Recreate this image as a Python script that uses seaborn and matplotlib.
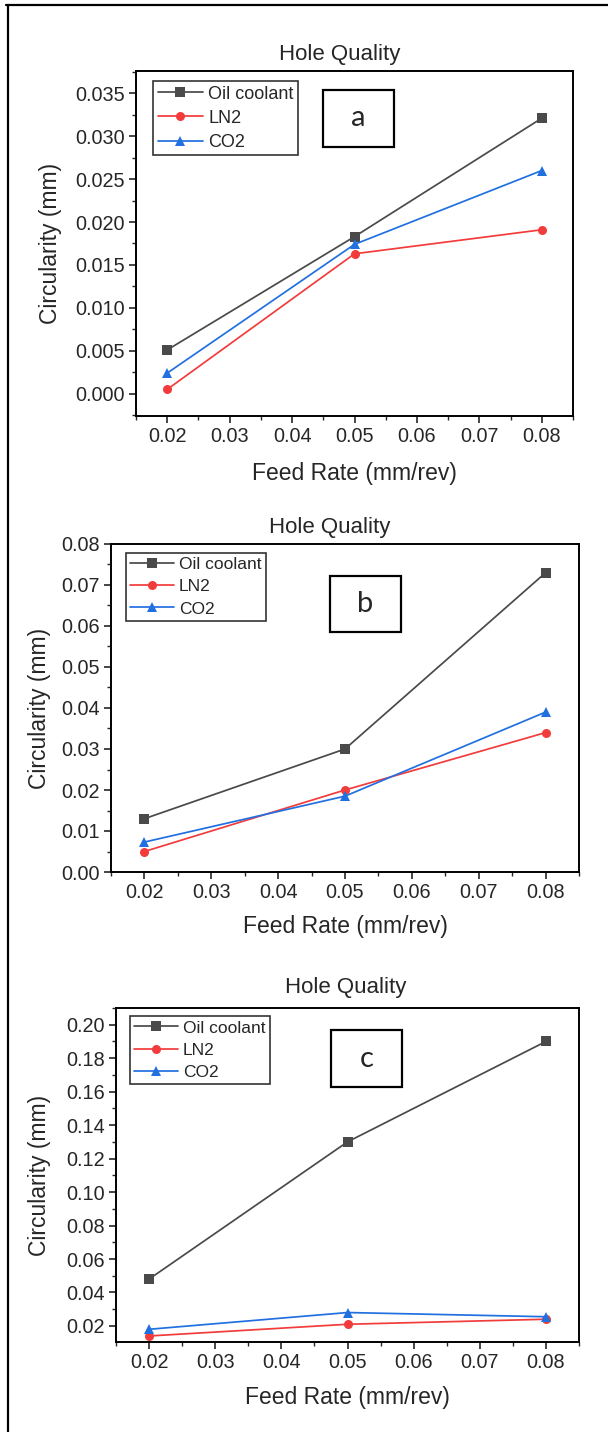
import numpy as np
import pandas as pd
import matplotlib.pyplot as plt
import seaborn as sns
from matplotlib.patches import Rectangle
from matplotlib.lines import Line2D
from matplotlib.ticker import MultipleLocator, FormatStrFormatter

sns.set_style("white")
plt.rcParams["font.family"] = ["Liberation Sans", "DejaVu Sans"]

feed_rate = [0.02, 0.05, 0.08]
coolants = ["Oil coolant", "LN2", "CO2"]

# circularity (mm) per panel
oil_a = [0.0051, 0.0183, 0.0321]
ln2_a = [0.0005, 0.0163, 0.0191]
co2_a = [0.0024, 0.0174, 0.0260]

oil_b = [0.013, 0.030, 0.073]
ln2_b = [0.005, 0.020, 0.034]
co2_b = [0.0073, 0.0185, 0.039]

oil_c = [0.048, 0.130, 0.190]
ln2_c = [0.014, 0.021, 0.024]
co2_c = [0.018, 0.028, 0.0255]

palette = {"Oil coolant": "#4a4a4a", "LN2": "#f23c3c", "CO2": "#2170e0"}
markers = {"Oil coolant": "s", "LN2": "o", "CO2": "^"}


def long_df(oil, ln2, co2):
    rows = []
    for name, vals in zip(coolants, [oil, ln2, co2]):
        for x, y in zip(feed_rate, vals):
            rows.append({"Feed": x, "Circ": y, "Coolant": name})
    return pd.DataFrame(rows)


fig = plt.figure(figsize=(6.08, 14.32), dpi=100)

# outer frame (top and left only)
fig.add_artist(Line2D([6 / 608, 1], [1 - 5 / 1432, 1 - 5 / 1432], color="black", lw=1.6))
fig.add_artist(Line2D([7.5 / 608, 7.5 / 608], [1 - 5 / 1432, 0], color="black", lw=1.6))

panels = [
    dict(data=(oil_a, ln2_a, co2_a), rect=[136 / 608, 1 - 416 / 1432, 437 / 608, 345 / 1432],
         ylim=(-0.0026, 0.0376), major=0.005, minor=0.0025, fmt="%.3f", letter="a",
         box=(0.428, 0.780, 0.162, 0.165), leg=(0.039, 0.971), tx=0.467, tpad=8, ylx=-0.169, lfs=13),
    dict(data=(oil_b, ln2_b, co2_b), rect=[111 / 608, 1 - 872 / 1432, 468 / 608, 328 / 1432],
         ylim=(0.0, 0.08), major=0.01, minor=0.005, fmt="%.2f", letter="b",
         box=(0.468, 0.732, 0.152, 0.170), leg=(0.032, 0.973), tx=0.468, tpad=8, ylx=-0.129, lfs=12.5),
    dict(data=(oil_c, ln2_c, co2_c), rect=[116 / 608, 1 - 1342 / 1432, 463 / 608, 334 / 1432],
         ylim=(0.0104, 0.210), major=0.02, minor=0.01, fmt="%.2f", letter="c",
         box=(0.465, 0.763, 0.153, 0.171), leg=(0.030, 0.976), tx=0.497, tpad=11, ylx=-0.141, lfs=12.5),
]

for p in panels:
    ax = fig.add_axes(p["rect"])
    df = long_df(*p["data"])
    sns.lineplot(data=df, x="Feed", y="Circ", hue="Coolant", style="Coolant",
                 hue_order=coolants, style_order=coolants, palette=palette,
                 markers=markers, dashes=False, markersize=6.5, markeredgewidth=0,
                 linewidth=1.25, ax=ax)

    ax.set_xlim(0.015, 0.085)
    ax.set_ylim(*p["ylim"])
    ax.xaxis.set_major_locator(MultipleLocator(0.01))
    ax.xaxis.set_minor_locator(MultipleLocator(0.005))
    ax.xaxis.set_major_formatter(FormatStrFormatter("%.2f"))
    ax.yaxis.set_major_locator(MultipleLocator(p["major"]))
    ax.yaxis.set_minor_locator(MultipleLocator(p["minor"]))
    ax.yaxis.set_major_formatter(FormatStrFormatter(p["fmt"]))
    ax.tick_params(which="major", direction="out", length=5, width=1.2, labelsize=14.3,
                   bottom=True, left=True, pad=3)
    ax.tick_params(which="minor", direction="out", length=3, width=1.0, bottom=True, left=True)

    for s in ax.spines.values():
        s.set_linewidth(1.4)
        s.set_color("black")

    ax.set_title("Hole Quality", fontsize=16, x=p["tx"], pad=p["tpad"])
    ax.set_xlabel("Feed Rate (mm/rev)", fontsize=16.5)
    ax.set_ylabel("Circularity (mm)", fontsize=16.5)
    ax.xaxis.set_label_coords(0.5, -0.132)
    ax.yaxis.set_label_coords(p["ylx"], 0.5)

    leg = ax.legend(loc="upper left", bbox_to_anchor=p["leg"], borderaxespad=0,
                    fontsize=p["lfs"], frameon=True, fancybox=False, edgecolor="black",
                    handlelength=2.5, handletextpad=0.3, labelspacing=0.4,
                    borderpad=0.25, title=None)
    leg.get_frame().set_linewidth(1.2)

    bx, by, bw, bh = p["box"]
    ax.add_patch(Rectangle((bx, by), bw, bh, transform=ax.transAxes, fill=False,
                           edgecolor="black", lw=1.6))
    ax.text(bx + bw / 2, by + bh / 2, p["letter"], transform=ax.transAxes,
            ha="center", va="center", fontsize=21, family=["Lato", "DejaVu Sans"])

fig.savefig("out.png", dpi=100)
